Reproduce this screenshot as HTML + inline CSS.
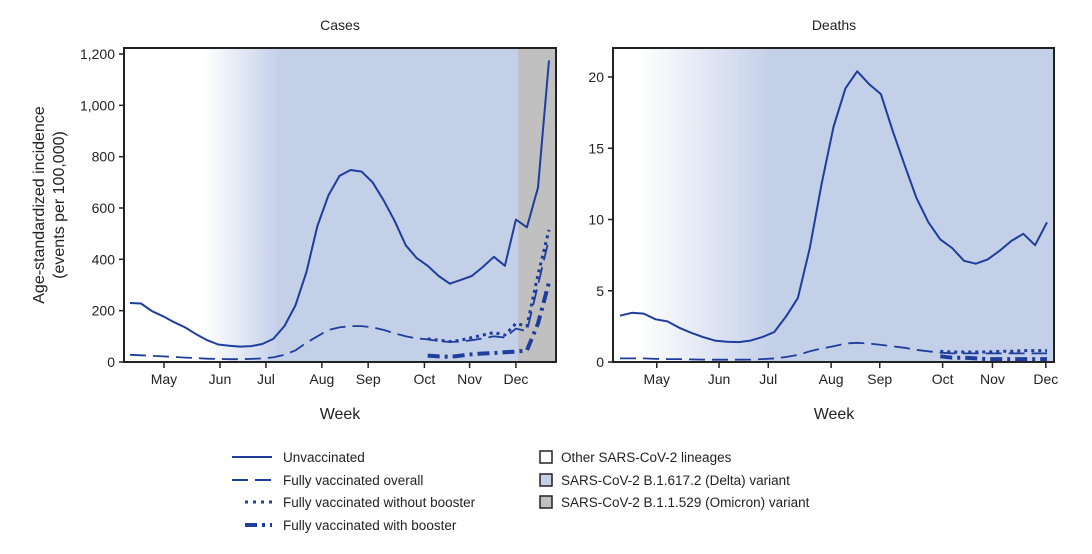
<!DOCTYPE html>
<html><head><meta charset="utf-8"><style>
body{margin:0;background:#fff;width:1092px;height:549px;overflow:hidden}
svg text{font-family:"Liberation Sans",sans-serif;fill:#222}
</style></head><body>
<svg id="c" width="1092" height="549" xmlns="http://www.w3.org/2000/svg">
<defs>
<linearGradient id="gL" gradientUnits="userSpaceOnUse" x1="204" x2="280" y1="0" y2="0"><stop offset="0" stop-color="#fff"/><stop offset="1" stop-color="#c4cfe8"/></linearGradient>
<linearGradient id="gR" gradientUnits="userSpaceOnUse" x1="640" x2="772" y1="0" y2="0"><stop offset="0" stop-color="#fff"/><stop offset="1" stop-color="#c4cfe8"/></linearGradient>
</defs>
<g id="left"></g>
<g id="right"></g>
<text x="340" y="30" font-size="14" text-anchor="middle">Cases</text>
<text x="834" y="30" font-size="14" text-anchor="middle">Deaths</text>
<text transform="translate(44,205) rotate(-90)" font-size="16" text-anchor="middle">Age-standardized incidence</text>
<text transform="translate(64,205) rotate(-90)" font-size="16" text-anchor="middle">(events per 100,000)</text>
<text x="340" y="419" font-size="16" text-anchor="middle">Week</text>
<text x="834" y="419" font-size="16" text-anchor="middle">Week</text>
<g font-size="13.5">
<line x1="232" x2="272" y1="457" y2="457" stroke="#1f3d9c" stroke-width="2"/>
<text x="283" y="462">Unvaccinated</text>
<line x1="232" x2="272" y1="480" y2="480" stroke="#1f3d9c" stroke-width="2" stroke-dasharray="16,7"/>
<text x="283" y="485">Fully vaccinated overall</text>
<line x1="245" x2="272" y1="502" y2="502" stroke="#1f3d9c" stroke-width="3" stroke-dasharray="3,5"/>
<text x="283" y="507">Fully vaccinated without booster</text>
<line x1="245" x2="272" y1="525" y2="525" stroke="#1f3d9c" stroke-width="4" stroke-dasharray="12,5,3,5"/>
<text x="283" y="530">Fully vaccinated with booster</text>
<rect x="540" y="451" width="12" height="12" fill="#fff" stroke="#222" stroke-width="1.5"/>
<text x="561" y="462">Other SARS-CoV-2 lineages</text>
<rect x="540" y="474" width="12" height="12" fill="#c4cfe8" stroke="#222" stroke-width="1.5"/>
<text x="561" y="485">SARS-CoV-2 B.1.617.2 (Delta) variant</text>
<rect x="540" y="496" width="12" height="12" fill="#c0c0c0" stroke="#222" stroke-width="1.5"/>
<text x="561" y="507">SARS-CoV-2 B.1.1.529 (Omicron) variant</text>
</g>
</svg>
<script>
const months=["May","Jun","Jul","Aug","Sep","Oct","Nov","Dec"];
const casesMonthWeeks=[3.08,8.16,12.33,17.4,21.6,26.7,30.8,35.0];
const casesTicks=[0,200,400,600,800,1000,1200];
const casesUnvax=[230,228,198,178,155,135,108,85,68,63,60,62,70,90,140,220,350,530,650,725,748,742,700,630,550,455,405,375,335,305,320,335,370,410,375,555,525,680,1175];
const casesVax=[28,26,24,22,20,17,15,13,12,11,11,12,14,18,28,45,75,100,125,135,140,140,135,125,112,100,92,88,82,78,80,85,92,100,95,130,120,300,480];
const casesNoBoost=[90,85,80,85,95,105,115,105,150,140,340,515];
const casesBoost=[25,22,20,25,30,33,35,38,40,45,150,310];
const deathsMonthWeeks=[3.1,8.35,12.5,17.8,21.9,27.2,31.4,35.9];
const deathsTicks=[0,5,10,15,20];
const deathsUnvax=[3.25,3.45,3.4,3.0,2.85,2.4,2.05,1.75,1.5,1.42,1.4,1.5,1.75,2.1,3.2,4.5,8,12.5,16.5,19.2,20.4,19.5,18.8,16.2,13.8,11.5,9.8,8.6,8.0,7.1,6.9,7.2,7.8,8.5,9.0,8.2,9.8];
const deathsVax=[0.25,0.25,0.25,0.22,0.2,0.2,0.18,0.17,0.16,0.16,0.16,0.17,0.2,0.25,0.35,0.5,0.75,0.95,1.1,1.3,1.35,1.3,1.2,1.1,1.0,0.85,0.75,0.65,0.6,0.6,0.6,0.6,0.6,0.6,0.6,0.6,0.6];
const deathsNoBoost=[0.75,0.7,0.7,0.7,0.7,0.75,0.75,0.8,0.8,0.8];
const deathsBoost=[0.4,0.3,0.3,0.25,0.2,0.2,0.2,0.2,0.2,0.2];
const NS="http://www.w3.org/2000/svg";
function mk(p,t,a){const e=document.createElementNS(NS,t);for(const k in a)e.setAttribute(k,a[k]);p.appendChild(e);return e;}
function panel(g,o){
  const n=o.unvax.length;
  const x=i=>o.x0+(o.x1-o.x0)*i/(n-1);
  const y=v=>o.yb-(o.yb-o.yt)*v/o.ymax;
  const bg=mk(g,'rect',{x:o.fl,y:48,width:o.fr-o.fl,height:314,fill:o.grad});
  
  
  if(o.omi!=null){const r=mk(g,'rect',{x:x(o.omi),y:48,width:o.fr-x(o.omi),height:314,fill:'#c0c0c0'});
    
    }
  const fr=mk(g,'rect',{x:o.fl,y:48,width:o.fr-o.fl,height:314,fill:'none',stroke:'#222','stroke-width':2});
  
  
  o.ticks.forEach(t=>{
    mk(g,'line',{x1:o.fl-5,x2:o.fl,y1:y(t),y2:y(t),stroke:'#222','stroke-width':1.5});
    const tx=mk(g,'text',{x:o.fl-9,y:y(t)+5,'font-size':14,'text-anchor':'end'});
    tx.textContent=t.toLocaleString('en-US');
    
    
  });
  months.forEach((m,k)=>{
    const xx=x(o.mw[k]);
    mk(g,'line',{x1:xx,x2:xx,y1:362,y2:368,stroke:'#222','stroke-width':1.5});
    const tx=mk(g,'text',{x:xx,y:384,'font-size':14,'text-anchor':'middle'});
    tx.textContent=m;
    
    
  });
  const line=(arr,start,dash,w,name)=>{
    const pts=arr.map((v,i)=>x(i+start).toFixed(1)+','+y(v).toFixed(1)).join(' ');
    const p=mk(g,'polyline',{points:pts,fill:'none',stroke:'#1f3d9c','stroke-width':w,'stroke-dasharray':dash,'stroke-linejoin':'round'});
    
    
  };
  line(o.unvax,0,'none',2,'unvaccinated-line');
  line(o.vax,0,'16,7',1.8,'fully-vaccinated-line');
  line(o.nob,n-o.nob.length,'3,4',3,'without-booster-line');
  line(o.bo,n-o.bo.length,'12,5,3,5',4,'with-booster-line');
}
panel(document.getElementById('left'),{x0:130,x1:549,fl:124,fr:556,yt:54,yb:362,ymax:1200,grad:'url(#gL)',omi:35.2,ticks:casesTicks,mw:casesMonthWeeks,unvax:casesUnvax,vax:casesVax,nob:casesNoBoost,bo:casesBoost});
panel(document.getElementById('right'),{x0:620,x1:1047,fl:613,fr:1054,yt:77,yb:362,ymax:20,grad:'url(#gR)',omi:null,ticks:deathsTicks,mw:deathsMonthWeeks,unvax:deathsUnvax,vax:deathsVax,nob:deathsNoBoost,bo:deathsBoost});
</script>
</body></html>
